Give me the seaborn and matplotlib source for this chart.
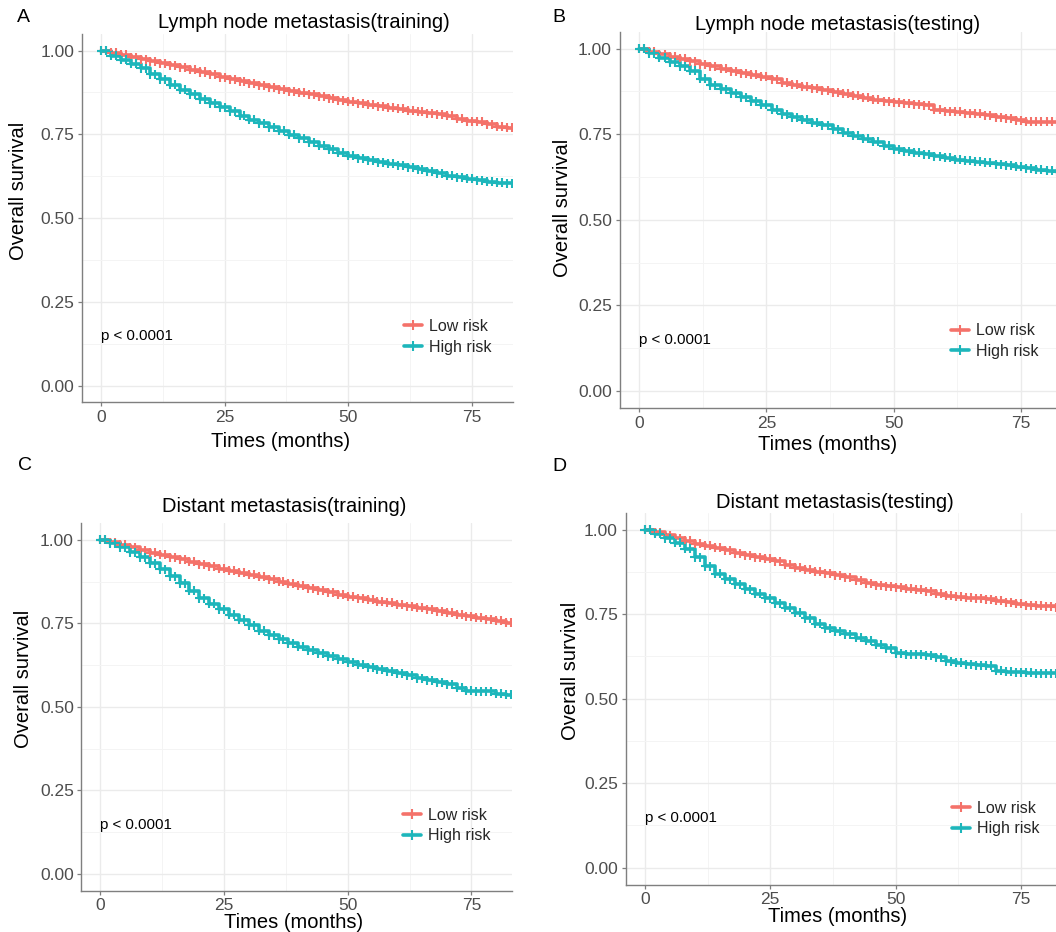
import numpy as np
import pandas as pd
import seaborn as sns
import matplotlib
matplotlib.use("Agg")
import matplotlib.pyplot as plt
from matplotlib.lines import Line2D

# figure size in pixels (dpi 100)
W, H = 1056, 932

# survival, every 2 months
TIMES = list(range(0, 85, 2))

LN_TRAIN_LOW = [1.000, 0.994, 0.987, 0.980, 0.974, 0.968, 0.962, 0.956, 0.950, 0.943,
                0.936, 0.929, 0.921, 0.914, 0.908, 0.902, 0.896, 0.890, 0.885, 0.879,
                0.874, 0.869, 0.864, 0.858, 0.852, 0.847, 0.842, 0.838, 0.834, 0.830,
                0.826, 0.821, 0.817, 0.813, 0.810, 0.805, 0.796, 0.789, 0.787, 0.780,
                0.772, 0.770, 0.770]
LN_TRAIN_HIGH = [1.000, 0.985, 0.972, 0.960, 0.947, 0.930, 0.914, 0.898, 0.883, 0.869,
                 0.854, 0.842, 0.831, 0.819, 0.806, 0.794, 0.783, 0.771, 0.760, 0.749,
                 0.739, 0.727, 0.716, 0.705, 0.695, 0.686, 0.679, 0.673, 0.667, 0.662,
                 0.657, 0.652, 0.646, 0.640, 0.634, 0.627, 0.622, 0.618, 0.613, 0.609,
                 0.605, 0.604, 0.604]

LN_TEST_LOW = [1.000, 0.991, 0.983, 0.976, 0.970, 0.963, 0.955, 0.948, 0.941, 0.934,
               0.928, 0.923, 0.918, 0.911, 0.901, 0.894, 0.889, 0.884, 0.879, 0.873,
               0.868, 0.863, 0.856, 0.850, 0.846, 0.843, 0.840, 0.837, 0.834, 0.822,
               0.817, 0.815, 0.812, 0.810, 0.806, 0.799, 0.796, 0.791, 0.787, 0.787,
               0.787, 0.787, 0.787]
LN_TEST_HIGH = [1.000, 0.987, 0.973, 0.960, 0.948, 0.935, 0.912, 0.893, 0.881, 0.869,
                0.858, 0.847, 0.836, 0.822, 0.808, 0.800, 0.792, 0.784, 0.776, 0.765,
                0.755, 0.745, 0.737, 0.728, 0.717, 0.706, 0.701, 0.696, 0.691, 0.686,
                0.681, 0.676, 0.673, 0.670, 0.667, 0.662, 0.659, 0.655, 0.651, 0.646,
                0.643, 0.641, 0.641]

DM_TRAIN_LOW = [1.000, 0.992, 0.985, 0.977, 0.969, 0.961, 0.955, 0.948, 0.941, 0.934,
                0.927, 0.920, 0.913, 0.907, 0.901, 0.895, 0.889, 0.882, 0.875, 0.869,
                0.862, 0.855, 0.849, 0.843, 0.836, 0.830, 0.825, 0.820, 0.815, 0.811,
                0.806, 0.801, 0.797, 0.792, 0.786, 0.781, 0.776, 0.771, 0.766, 0.762,
                0.757, 0.752, 0.749]
DM_TRAIN_HIGH = [1.000, 0.990, 0.977, 0.963, 0.947, 0.930, 0.911, 0.891, 0.870, 0.848,
                 0.825, 0.808, 0.792, 0.776, 0.760, 0.744, 0.728, 0.715, 0.703, 0.691,
                 0.680, 0.670, 0.660, 0.651, 0.642, 0.633, 0.626, 0.619, 0.613, 0.607,
                 0.601, 0.594, 0.586, 0.580, 0.573, 0.567, 0.558, 0.549, 0.547, 0.547,
                 0.540, 0.537, 0.537]

DM_TEST_LOW = [1.000, 0.992, 0.983, 0.975, 0.967, 0.958, 0.952, 0.946, 0.939, 0.931,
               0.924, 0.919, 0.914, 0.906, 0.896, 0.887, 0.881, 0.876, 0.871, 0.865,
               0.859, 0.851, 0.842, 0.835, 0.832, 0.829, 0.826, 0.823, 0.818, 0.810,
               0.805, 0.802, 0.799, 0.797, 0.794, 0.790, 0.786, 0.781, 0.777, 0.775,
               0.773, 0.770, 0.769]
DM_TEST_HIGH = [1.000, 0.988, 0.975, 0.962, 0.943, 0.919, 0.892, 0.869, 0.853, 0.838,
                0.824, 0.810, 0.797, 0.783, 0.769, 0.755, 0.738, 0.722, 0.709, 0.700,
                0.690, 0.680, 0.671, 0.660, 0.649, 0.634, 0.632, 0.631, 0.628, 0.623,
                0.611, 0.607, 0.602, 0.599, 0.598, 0.583, 0.579, 0.578, 0.577, 0.576,
                0.576, 0.576, 0.576]

GROUPS = ["Low risk", "High risk"]
COLORS = {"Low risk": "#F4726A", "High risk": "#1DB6BB"}
TITLES = ["Lymph node metastasis(training)", "Lymph node metastasis(testing)",
          "Distant metastasis(training)", "Distant metastasis(testing)"]
LETTERS = ["A", "B", "C", "D"]
X_TICKS = [0, 25, 50, 75]
Y_TICKS = [0.0, 0.25, 0.5, 0.75, 1.0]
Y_TICKLABELS = ["0.00", "0.25", "0.50", "0.75", "1.00"]
P_TEXT = "p < 0.0001"

CURVES = [(LN_TRAIN_LOW, LN_TRAIN_HIGH), (LN_TEST_LOW, LN_TEST_HIGH),
          (DM_TRAIN_LOW, DM_TRAIN_HIGH), (DM_TEST_LOW, DM_TEST_HIGH)]

# pixel layout: axes box (left, top, right, bottom), title, letter, ylabel, xlabel
LAYOUT = [
    dict(box=(82, 33.8, 512.5, 402.4), title=(304, 22), letter=(23, 18),
         ylab=(19, 191), xlab=(281, 441)),
    dict(box=(619.5, 31.5, 1062.8, 408.2), title=(838, 25), letter=(559, 18),
         ylab=(562, 208), xlab=(828, 444)),
    dict(box=(81.4, 523, 512, 890.8), title=(284, 507), letter=(25, 466),
         ylab=(24, 679), xlab=(294, 922)),
    dict(box=(625.5, 512.8, 1062.2, 884.6), title=(835, 503), letter=(559, 467),
         ylab=(570, 671), xlab=(838, 916)),
]

sns.set_theme(style="white")
plt.rcParams['font.family'] = ['Liberation Sans', 'DejaVu Sans']

fig = plt.figure(figsize=(W / 100, H / 100), dpi=100)
fig.patch.set_facecolor("white")


def fx(px):
    return px / W


def fy(py):
    return 1 - py / H


for i, (curves, lay) in enumerate(zip(CURVES, LAYOUT)):
    l, t, r, b = lay["box"]
    ax = fig.add_axes([fx(l), fy(b), (r - l) / W, (b - t) / H])

    df = pd.concat([
        pd.DataFrame({"time": TIMES, "surv": vals, "group": g})
        for g, vals in zip(GROUPS, curves)
    ])
    # censor marks sit on the step line: at each step and halfway along it
    marks = pd.concat([df, df.assign(time=df["time"] + 1)])

    sns.lineplot(data=df, x="time", y="surv", hue="group", hue_order=GROUPS,
                 palette=COLORS, estimator=None, drawstyle="steps-post",
                 linewidth=2.6, legend=False, ax=ax, zorder=3)
    sns.scatterplot(data=marks, x="time", y="surv", hue="group", hue_order=GROUPS,
                    palette=COLORS, marker="+", s=42, linewidth=1.5,
                    legend=False, ax=ax, zorder=4)

    ax.set_xlim(-3.85, 83.2)
    ax.set_ylim(-0.05, 1.05)
    ax.set_xticks(X_TICKS)
    ax.set_yticks(Y_TICKS)
    ax.set_yticklabels(Y_TICKLABELS)
    ax.set_xticks([12.5, 37.5, 62.5], minor=True)
    ax.set_yticks([0.125, 0.375, 0.625, 0.875], minor=True)
    ax.grid(True, which="major", color="#EBEBEB", linewidth=1.0, zorder=0)
    ax.grid(True, which="minor", color="#F4F4F4", linewidth=0.7, zorder=0)
    ax.set_axisbelow(True)
    ax.set_xlabel("")
    ax.set_ylabel("")

    for s in ["top", "right"]:
        ax.spines[s].set_visible(False)
    for s in ["left", "bottom"]:
        ax.spines[s].set_color("#7F7F7F")
        ax.spines[s].set_linewidth(1.0)
    ax.tick_params(axis="both", which="major", length=3, width=0.9,
                   color="#7F7F7F", labelcolor="#4D4D4D", labelsize=12.5,
                   direction="out", bottom=True, left=True, pad=2.5)
    ax.tick_params(axis="both", which="minor", length=0)

    ax.text(0, 0.148, P_TEXT, fontsize=10.8, ha="left", va="center", color="black")

    handles = [Line2D([], [], color=COLORS[g], linewidth=2.6, marker="+",
                      markersize=7, markeredgewidth=1.5) for g in GROUPS]
    ax.legend(handles, GROUPS, loc="center left", bbox_to_anchor=(0.748, 0.178),
              frameon=False, fontsize=11.5, handlelength=1.1, handletextpad=0.45,
              labelspacing=0.35, borderpad=0, borderaxespad=0)

    fig.text(fx(lay["title"][0]), fy(lay["title"][1]), TITLES[i], fontsize=14.5,
             ha="center", va="center", color="black")
    fig.text(fx(lay["letter"][0]), fy(lay["letter"][1]), LETTERS[i], fontsize=14,
             ha="center", va="center", color="black")
    fig.text(fx(lay["ylab"][0]), fy(lay["ylab"][1]), "Overall survival", fontsize=14.5,
             ha="center", va="center", rotation=90, color="black")
    fig.text(fx(lay["xlab"][0]), fy(lay["xlab"][1]), "Times (months)", fontsize=14.5,
             ha="center", va="center", color="black")

fig.savefig("out.png", dpi=100, facecolor="white")
